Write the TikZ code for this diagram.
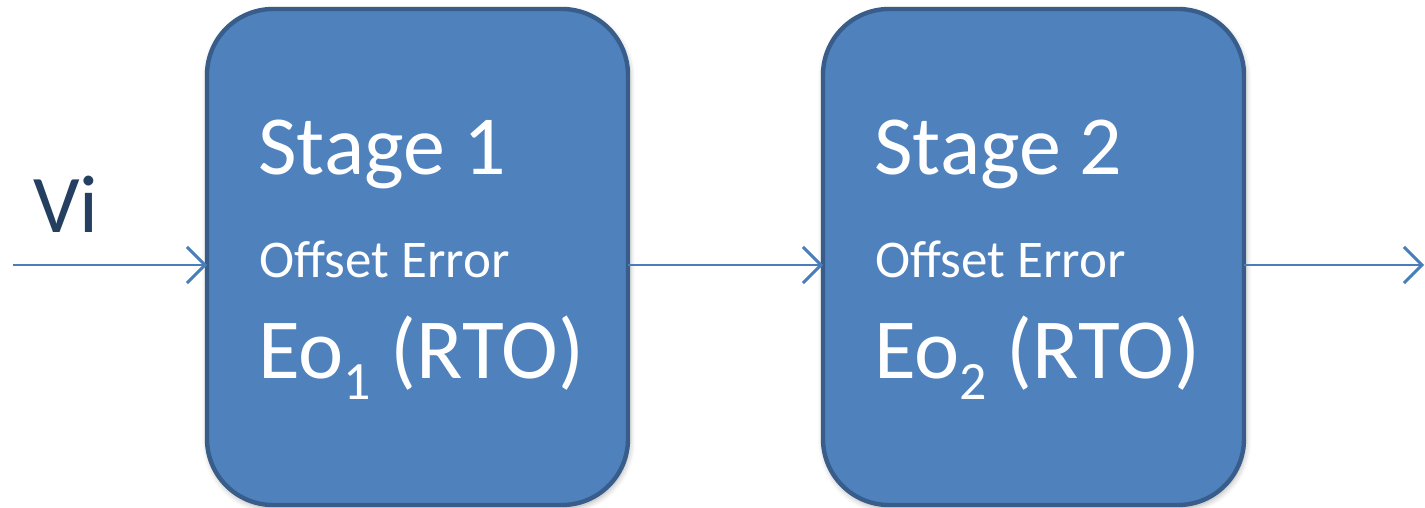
\documentclass[tikz,border=0pt]{standalone}
\usepackage{fontspec}
\setmainfont{Carlito}
\usetikzlibrary{arrows.meta,shadows.blur}
\definecolor{boxfill}{HTML}{4F81BD}
\definecolor{boxline}{HTML}{385D8A}
\definecolor{arrowcol}{HTML}{4A7EBB}
\definecolor{vicol}{HTML}{243F60}
\tikzset{
  stagebox/.style={draw=boxline, fill=boxfill, line width=2.2pt, rounded corners=33pt,
    minimum width=210.5pt, minimum height=248pt, inner sep=0pt, outer sep=0pt,
    blur shadow={shadow xshift=0.6pt, shadow yshift=-1.5pt, shadow blur radius=3pt, shadow opacity=35}},
  flow/.style={draw=arrowcol, line width=1.3pt, -{Straight Barb[length=9pt,width=18pt,line width=1.5pt]}},
  bigtxt/.style={text=white, font=\fontsize{42}{50}\selectfont, anchor=base west, inner sep=0pt},
  eotxt/.style={text=white, font=\fontsize{42.8}{50}\selectfont, anchor=base west, inner sep=0pt},
  smalltxt/.style={text=white, font=\fontsize{26.5}{32}\selectfont, anchor=base west, inner sep=0pt},
}
\newcommand{\subone}[1]{\raisebox{-10.5pt}{\fontsize{27}{30}\selectfont #1}}
\begin{document}
\begin{tikzpicture}[x=0.5pt,y=-0.5pt]
\useasboundingbox (0,0) rectangle (1425,508);
\node[stagebox] (b1) at (417.5,257) {};
\node[stagebox] (b2) at (1033.5,257) {};
\node[bigtxt] (s1) at (258,175) {Stage 1};
\node[smalltxt] (o1) at (259,277) {Offset Error};
\node[eotxt] (e1) at (258,378) {Eo\subone{1} (RTO)};
\node[bigtxt] (s2) at (874,175) {Stage 2};
\node[smalltxt] (o2) at (875,277) {Offset Error};
\node[eotxt] (e2) at (874,378) {Eo\subone{2} (RTO)};
\node[text=vicol, font=\fontsize{41}{48}\selectfont, anchor=base west, inner sep=0pt] (vi) at (33,233) {Vi};
\coordinate (in) at (13,265);
\coordinate (out) at (1424,265);
\draw[flow] (in) -- (in -| b1.west);
\draw[flow] (b1.east |- in) -- (b2.west |- in);
\draw[flow] (b2.east |- in) -- (out);
\end{tikzpicture}
\end{document}
